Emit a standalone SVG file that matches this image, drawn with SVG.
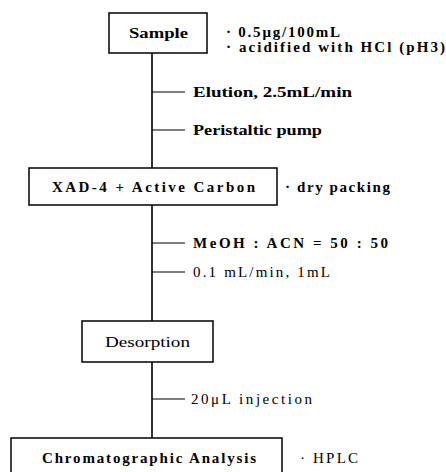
<svg xmlns="http://www.w3.org/2000/svg" width="446" height="472" viewBox="0 0 446 472">
<style>
.box{fill:#fff;stroke:#000;stroke-width:1.5}
.ln{stroke:#000;stroke-width:1.6;fill:none}
.br{stroke:#000;stroke-width:1.2;fill:none}
text{font-family:"Liberation Serif","DejaVu Serif",serif;font-weight:bold;font-size:15px;fill:#000}
.n{font-weight:normal}
</style>
<rect width="446" height="472" fill="#fff"/>
<g id="connectors">
<line class="ln" x1="152" y1="53" x2="152" y2="168"/>
<line class="ln" x1="152" y1="205" x2="152" y2="321"/>
<line class="ln" x1="152" y1="362" x2="152" y2="438"/>
<line class="br" x1="152" y1="92" x2="185" y2="92"/>
<line class="br" x1="152" y1="130" x2="185" y2="130"/>
<line class="br" x1="152" y1="243" x2="185" y2="243"/>
<line class="br" x1="152" y1="272" x2="185" y2="272"/>
<line class="br" x1="152" y1="399" x2="185" y2="399"/>
<text x="193" y="97" textLength="159" lengthAdjust="spacingAndGlyphs">Elution, 2.5mL/min</text>
<text x="193" y="135" textLength="129" lengthAdjust="spacingAndGlyphs">Peristaltic pump</text>
<text x="193" y="248" textLength="195" lengthAdjust="spacing">MeOH : ACN = 50 : 50</text>
<text class="n" x="193" y="277" textLength="137" lengthAdjust="spacing">0.1 mL/min, 1mL</text>
<text class="n" x="191" y="404" textLength="121" lengthAdjust="spacing">20μL injection</text>
</g>
<g id="sample">
<rect class="box" x="109" y="13" width="98" height="40"/>
<text x="129" y="38" textLength="59" lengthAdjust="spacingAndGlyphs">Sample</text>
<text x="226" y="37" textLength="114" lengthAdjust="spacing">· 0.5μg/100mL</text>
<text x="226" y="52" textLength="219" lengthAdjust="spacing">· acidified with HCl (pH3)</text>
</g>
<g id="xad">
<rect class="box" x="29" y="168" width="248" height="37"/>
<text x="52" y="192" textLength="203" lengthAdjust="spacing">XAD-4 + Active Carbon</text>
<text x="285" y="192" textLength="105" lengthAdjust="spacing">· dry packing</text>
</g>
<g id="desorption">
<rect class="box" x="82" y="321" width="131" height="41"/>
<text class="n" x="105" y="347" textLength="85" lengthAdjust="spacingAndGlyphs">Desorption</text>
</g>
<g id="analysis">
<rect class="box" x="11" y="438" width="271" height="40"/>
<text x="42" y="463" textLength="214" lengthAdjust="spacing">Chromatographic Analysis</text>
<text class="n" x="300" y="463" textLength="58" lengthAdjust="spacing">· HPLC</text>
</g>
</svg>
